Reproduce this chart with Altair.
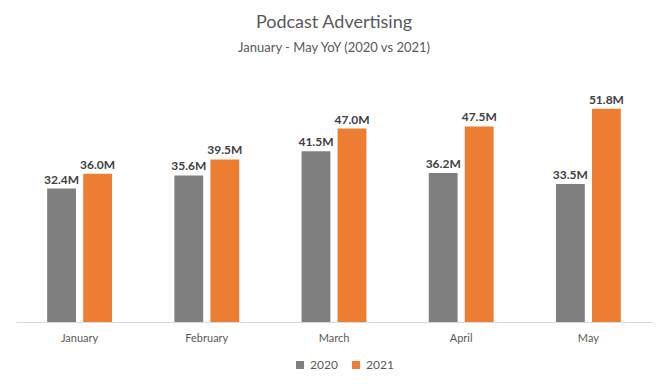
import altair as alt
import pandas as pd

months = ["January", "February", "March", "April", "May"]
v2020 = [32.4, 35.6, 41.5, 36.2, 33.5]
v2021 = [36.0, 39.5, 47.0, 47.5, 51.8]
years = ["2020", "2021"]
colors = ["#7f7f7f", "#ed7d31"]

rows = []
for m, a, b in zip(months, v2020, v2021):
    rows.append({"month": m, "year": years[0], "value": a, "label": f"{a:.1f}M"})
    rows.append({"month": m, "year": years[1], "value": b, "label": f"{b:.1f}M"})
df = pd.DataFrame(rows)

FONT = "Lato"

base = alt.Chart(df).encode(
    x=alt.X(
        "month:N",
        sort=months,
        scale=alt.Scale(paddingInner=0.49, paddingOuter=0.245),
        axis=alt.Axis(
            title=None, labelAngle=0, ticks=False, domainColor="#d9d9d9",
            labelColor="#595959", labelFontSize=11, labelPadding=10, labelFont=FONT,
        ),
    ),
    xOffset=alt.XOffset("year:N", sort=years, scale=alt.Scale(paddingInner=0.2, paddingOuter=0)),
    y=alt.Y("value:Q", scale=alt.Scale(domain=[0, 60]), axis=None),
)

bars = base.mark_bar().encode(
    color=alt.Color(
        "year:N",
        scale=alt.Scale(domain=years, range=colors),
        legend=alt.Legend(
            orient="none", legendX=278, legendY=284, direction="horizontal",
            title=None, symbolType="square", symbolSize=64,
            labelFont=FONT, labelFontSize=12, labelColor="#595959",
            columnPadding=12, symbolStrokeWidth=0,
        ),
    )
)

text = base.mark_text(dy=-9, fontWeight="bold", fontSize=12, color="#404040", font=FONT).encode(
    text="label:N"
)

chart = (bars + text).properties(
    width=636,
    height=247,
    padding={"left": 8, "top": 6, "right": 8, "bottom": 4},
    background="white",
    title=alt.Title(
        "Podcast Advertising",
        subtitle="January - May YoY (2020 vs 2021)",
        font=FONT, fontSize=18, fontWeight="normal", color="#595959",
        subtitleFont=FONT, subtitleFontSize=13, subtitleColor="#595959",
        subtitlePadding=10, offset=20, anchor="middle",
    ),
).configure_view(strokeWidth=0)

chart.save("out.html", embed_options={"renderer": "svg", "actions": False})
